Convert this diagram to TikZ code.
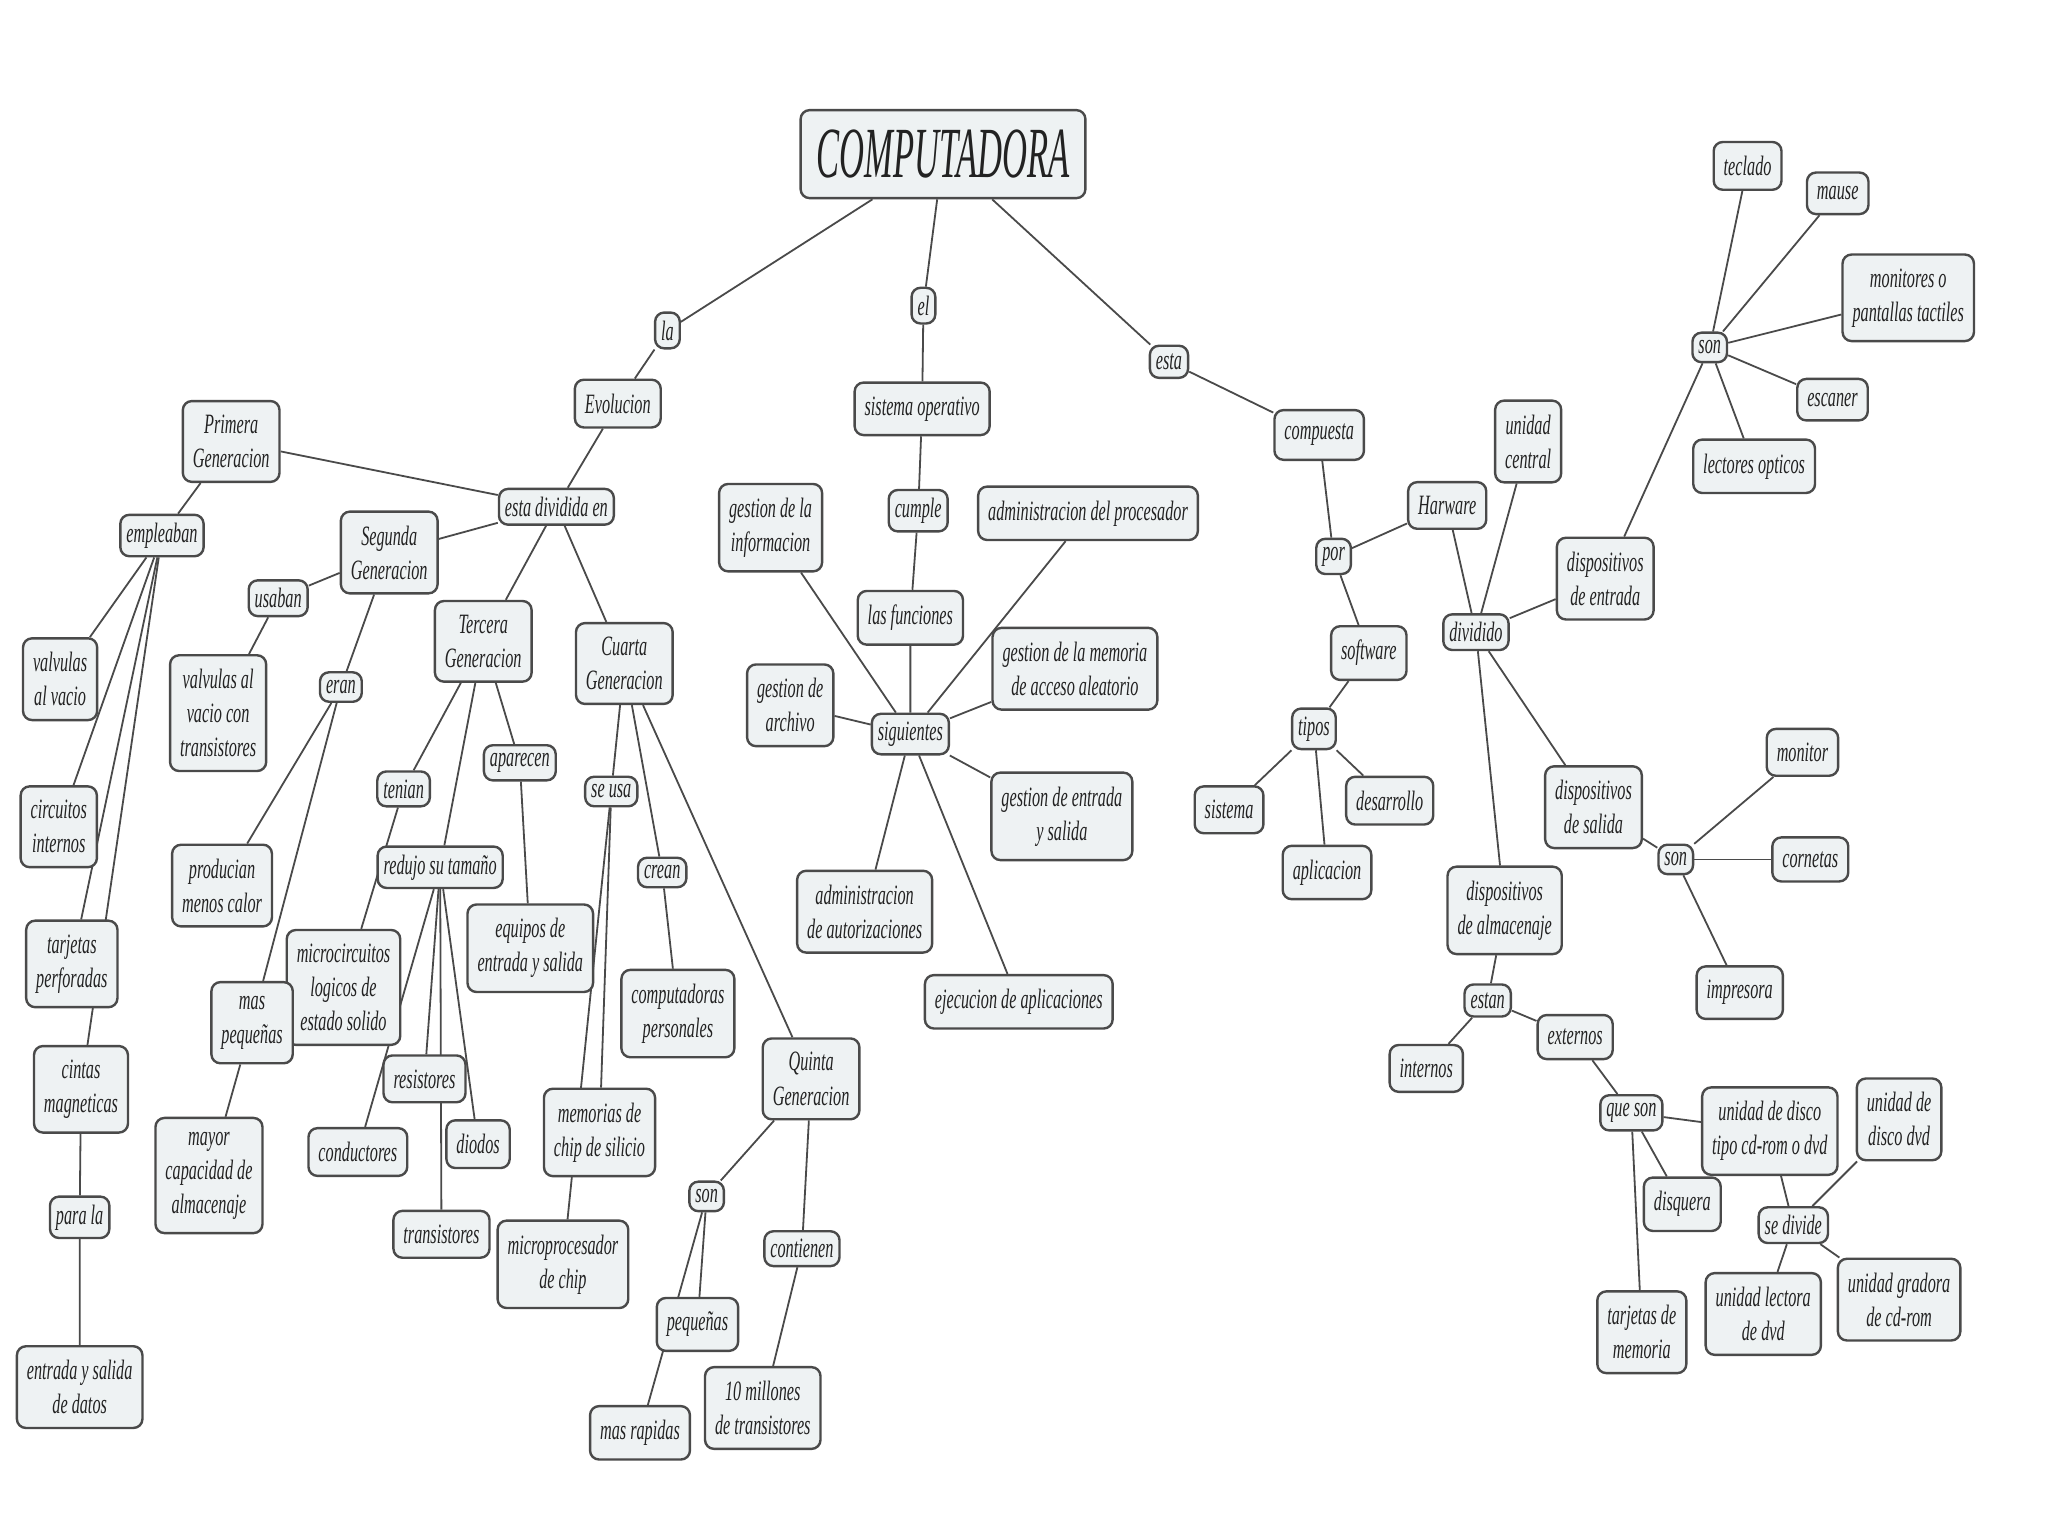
\documentclass[tikz,border=0pt]{standalone}
\usepackage{fontspec}
\setmainfont{Liberation Serif}[FakeStretch=0.58]
\newfontfamily\bigfont{Liberation Serif}[FakeStretch=0.48]
\pgfdeclarelayer{bg}
\pgfdeclarelayer{edges}
\pgfsetlayers{bg,edges,main}
\definecolor{boxfill}{HTML}{EEF2F3}
\definecolor{boxline}{HTML}{4A4A4A}
\definecolor{txt}{HTML}{222222}
\tikzset{
 cbox/.style={draw=boxline, line width=1.2pt, fill=boxfill, rounded corners=4.5pt, align=center,
   inner xsep=5pt, inner ysep=7pt, font=\itshape\fontsize{14}{17}\selectfont, text=txt},
 lbox/.style={cbox, inner xsep=3pt, inner ysep=4pt},
 conn/.style={draw=boxline, line width=0.9pt},
}
\begin{document}
\begin{tikzpicture}[x=0.653pt, y=-0.653pt]
\begin{pgfonlayer}{bg}
\fill[white] (0,0) rectangle (1568,1176);
\end{pgfonlayer}
\useasboundingbox (0,0) rectangle (1568,1176);

% top
\node[cbox, font=\bigfont\itshape\fontsize{36}{38}\selectfont, inner xsep=8pt, minimum height=44pt] (comp) at (722,118) {COMPUTADORA};
\node[lbox] (la) at (511,253) {la};
\node[lbox] (el) at (707,234) {el};
\node[lbox] (esta) at (895,277) {esta};
\node[cbox] (evol) at (473,309) {Evolucion};
\node[cbox] (so) at (706,313) {sistema operativo};
\node[cbox] (compuesta) at (1010,333) {compuesta};

% left cluster
\node[cbox] (prim) at (177,338) {Primera\\Generacion};
\node[lbox] (ediv) at (426,388) {esta dividida en};
\node[cbox] (seg) at (298,423) {Segunda\\Generacion};
\node[lbox] (empl) at (124,410) {empleaban};
\node[lbox] (usab) at (213,458) {usaban};
\node[cbox] (ter) at (370,491) {Tercera\\Generacion};
\node[cbox] (cua) at (478,508) {Cuarta\\Generacion};
\node[lbox] (eran) at (261,526) {eran};
\node[cbox] (valv) at (46,520) {valvulas\\al vacio};
\node[cbox] (valvt) at (167,546) {valvulas al\\vacio con\\transistores};
\node[cbox] (circ) at (45,633) {circuitos\\internos};
\node[lbox] (ten) at (309,604) {tenian};
\node[lbox] (apar) at (398,584) {aparecen};
\node[lbox] (seusa) at (468,606) {se usa};
\node[lbox] (red) at (337,664) {redujo su tamaño};
\node[lbox] (crean) at (507,668) {crean};
\node[cbox] (prod) at (170,678) {producian\\menos calor};
\node[cbox] (tarj) at (55,738) {tarjetas\\perforadas};
\node[cbox] (equip) at (406,726) {equipos de\\entrada y salida};
\node[cbox] (micro) at (263,756) {microcircuitos\\logicos de\\estado solido};
\node[cbox] (masp) at (193,783) {mas\\pequeñas};
\node[cbox] (compp) at (519,776) {computadoras\\personales};
\node[cbox] (resis) at (325,826) {resistores};
\node[cbox] (quinta) at (621,826) {Quinta\\Generacion};
\node[cbox] (cint) at (62,834) {cintas\\magneticas};
\node[cbox] (mem) at (459,867) {memorias de\\chip de silicio};
\node[cbox] (diod) at (366,876) {diodos};
\node[cbox] (cond) at (274,882) {conductores};
\node[cbox] (mayor) at (160,900) {mayor\\capacidad de\\almacenaje};
\node[lbox] (son) at (541,916) {son};
\node[lbox] (para) at (61,932) {para la};
\node[cbox] (trans) at (338,945) {transistores};
\node[lbox] (cont) at (614,956) {contienen};
\node[cbox] (microp) at (431,968) {microprocesador\\de chip};
\node[cbox] (peq) at (534,1014) {pequeñas};
\node[cbox] (entr) at (61,1062) {entrada y salida\\de datos};
\node[cbox] (diez) at (584,1078) {10 millones\\de transistores};
\node[cbox] (masr) at (490,1097) {mas rapidas};

% center cluster
\node[cbox] (ginfo) at (590,404) {gestion de la\\informacion};
\node[lbox] (cumple) at (703,391) {cumple};
\node[cbox] (admp) at (833,393) {administracion del procesador};
\node[cbox] (func) at (697,473) {las funciones};
\node[cbox] (gmem) at (823,512) {gestion de la memoria\\de acceso aleatorio};
\node[cbox] (garch) at (605,540) {gestion de\\archivo};
\node[lbox] (sig) at (697,562) {siguientes};
\node[cbox] (ges) at (813,625) {gestion de entrada\\y salida};
\node[cbox] (adma) at (662,698) {administracion\\de autorizaciones};
\node[cbox] (ejec) at (780,767) {ejecucion de aplicaciones};

% right cluster
\node[cbox] (ucent) at (1170,338) {unidad\\central};
\node[cbox] (harw) at (1108,387) {Harware};
\node[lbox] (por) at (1021,426) {por};
\node[cbox] (dent) at (1229,443) {dispositivos\\de entrada};
\node[lbox] (div) at (1130,484) {dividido};
\node[cbox] (soft) at (1048,500) {software};
\node[lbox] (tipos) at (1006,558) {tipos};
\node[cbox] (des) at (1064,613) {desarrollo};
\node[cbox] (sist) at (941,620) {sistema};
\node[cbox] (dsal) at (1220,618) {dispositivos\\de salida};
\node[lbox] (sons) at (1283,658) {son};
\node[cbox] (apl) at (1016,668) {aplicacion};
\node[cbox] (dalm) at (1152,697) {dispositivos\\de almacenaje};
\node[cbox] (monitor) at (1380,576) {monitor};
\node[cbox] (corn) at (1386,658) {cornetas};
\node[cbox] (impr) at (1332,760) {impresora};
\node[lbox] (estan) at (1139,766) {estan};
\node[cbox] (ext) at (1206,794) {externos};
\node[cbox] (int) at (1092,818) {internos};
\node[lbox] (queson) at (1249,852) {que son};
\node[cbox] (udisco) at (1355,866) {unidad de disco\\tipo cd-rom o dvd};
\node[cbox] (udvd) at (1454,857) {unidad de\\disco dvd};
\node[cbox] (disq) at (1288,922) {disquera};
\node[lbox] (sediv) at (1373,938) {se divide};
\node[cbox] (ugrab) at (1454,995) {unidad gradora\\de cd-rom};
\node[cbox] (ulect) at (1350,1006) {unidad lectora\\de dvd};
\node[cbox] (tarjm) at (1257,1020) {tarjetas de\\memoria};
\node[lbox] (sone) at (1309,266) {son};
\node[cbox] (tecl) at (1338,127) {teclado};
\node[cbox] (maus) at (1407,148) {mause};
\node[cbox] (monit) at (1461,228) {monitores o\\pantallas tactiles};
\node[cbox] (esc) at (1403,306) {escaner};
\node[cbox] (lect) at (1343,357) {lectores opticos};

\begin{pgfonlayer}{edges}
\draw[conn] (comp) -- (la) -- (evol);
\draw[conn] (comp) -- (el) -- (so);
\draw[conn] (comp) -- (esta) -- (compuesta);
\draw[conn] (evol) -- (ediv);
\foreach \t in {prim,seg,ter,cua} \draw[conn] (ediv) -- (\t);
\draw[conn] (prim) -- (empl);
\foreach \t in {valv,circ,tarj,cint} \draw[conn] (empl) -- (\t);
\draw[conn] (cint) -- (para) -- (entr);
\draw[conn] (seg) -- (usab) -- (valvt);
\draw[conn] (seg) -- (eran);
\draw[conn] (eran) -- (prod);
\draw[conn] (eran) -- (masp) -- (mayor);
\draw[conn] (ter) -- (ten) -- (micro);
\draw[conn] (ter) -- (red);
\draw[conn] (ter) -- (apar) -- (equip);
\foreach \t in {resis,cond,diod,trans} \draw[conn] (red) -- (\t);
\draw[conn] (cua) -- (seusa);
\draw[conn] (seusa) -- (mem);
\draw[conn] (seusa) -- (microp);
\draw[conn] (cua) -- (crean) -- (compp);
\draw[conn] (cua) -- (quinta);
\draw[conn] (quinta) -- (son);
\draw[conn] (son) -- (peq);
\draw[conn] (son) -- (masr);
\draw[conn] (quinta) -- (cont) -- (diez);
\draw[conn] (so) -- (cumple) -- (func) -- (sig);
\foreach \t in {ginfo,garch,admp,gmem,ges,adma,ejec} \draw[conn] (sig) -- (\t);
\draw[conn] (compuesta) -- (por);
\draw[conn] (por) -- (harw);
\draw[conn] (por) -- (soft) -- (tipos);
\foreach \t in {sist,apl,des} \draw[conn] (tipos) -- (\t);
\draw[conn] (harw) -- (div);
\draw[conn] (ucent) -- (div);
\foreach \t in {dent,dsal,dalm} \draw[conn] (div) -- (\t);
\draw[conn] (dent) -- (sone);
\foreach \t in {tecl,maus,monit,esc,lect} \draw[conn] (sone) -- (\t);
\draw[conn] (dsal) -- (sons);
\foreach \t in {monitor,corn,impr} \draw[conn] (sons) -- (\t);
\draw[conn] (dalm) -- (estan);
\draw[conn] (estan) -- (int);
\draw[conn] (estan) -- (ext) -- (queson);
\foreach \t in {udisco,disq,tarjm} \draw[conn] (queson) -- (\t);
\draw[conn] (udisco) -- (sediv);
\foreach \t in {udvd,ulect,ugrab} \draw[conn] (sediv) -- (\t);
\end{pgfonlayer}
\end{tikzpicture}
\end{document}
